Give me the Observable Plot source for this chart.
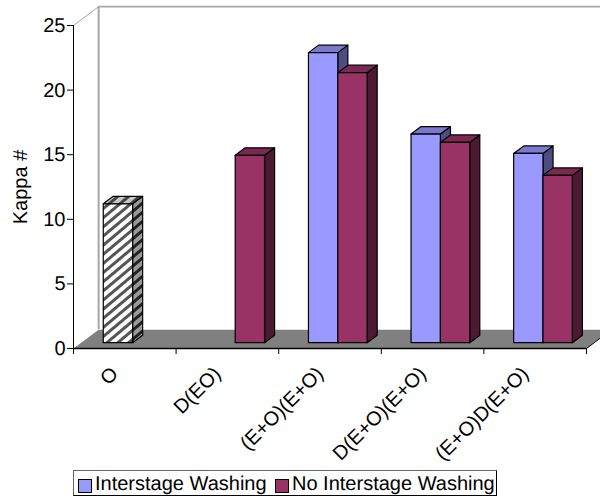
<!DOCTYPE html>
<html>
<head>
<meta charset="utf-8">
<script src="https://cdn.jsdelivr.net/npm/d3@7"></script>
<script src="https://cdn.jsdelivr.net/npm/@observablehq/plot@0.6"></script>
<style>
  html, body { margin: 0; padding: 0; background: #fff; }
  #chart { position: relative; width: 600px; height: 499px; overflow: hidden; font-family: "Liberation Sans", Arial, sans-serif; text-rendering: geometricPrecision; }
  #chart svg { display: block; }
  #legend { position: absolute; left: 73px; top: 470px; width: 424px; height: 26px; box-sizing: border-box; border: 1px solid #000; border-top-color: #666; border-left-color: #666; font-size: 20px; line-height: 26px; color: #000; white-space: nowrap; }
  #legend span { position: absolute; top: 0; }
  #legend i { position: absolute; top: 8px; width: 12px; height: 12px; border: 1px solid #000; box-sizing: content-box; }
</style>
</head>
<body>
<div id="chart"><div id="legend"></div></div>
<script>
const categories = ["O", "D(EO)", "(E+O)(E+O)", "D(E+O)(E+O)", "(E+O)D(E+O)"];
const oxygenOnly = [10.75, null, null, null, null];
const interstageWashing = [null, null, 22.45, 16.15, 14.65];
const noInterstageWashing = [null, 14.5, 20.9, 15.5, 12.95];
const yTicks = [0, 5, 10, 15, 20, 25];
const seriesNames = ["Interstage Washing", "No Interstage Washing"];

// Oblique projection of the third dimension, in data units of x and y.
const wallDepth = {x: 0.245, y: 1.46};
const barDepth = {x: 0.098, y: 0.58};
const barLift = 0.45;
const barStart = 0.29;
const barWidth = 0.286;

function bars(values, slot) {
  return values.flatMap((v, i) => v == null ? [] : [{i, v, x0: i + barStart + slot * barWidth, x1: i + barStart + (slot + 1) * barWidth, y0: barLift, y1: barLift + v}]);
}
const poly = (id, pts) => pts.map(([x, y]) => ({id, x, y}));
const front = (b, k) => poly(k + b.i, [[b.x0, b.y0], [b.x1, b.y0], [b.x1, b.y1], [b.x0, b.y1]]);
const side = (b, k) => poly(k + b.i, [[b.x1, b.y0], [b.x1 + barDepth.x, b.y0 + barDepth.y], [b.x1 + barDepth.x, b.y1 + barDepth.y], [b.x1, b.y1]]);
const top_ = (b, k) => poly(k + b.i, [[b.x0, b.y1], [b.x1, b.y1], [b.x1 + barDepth.x, b.y1 + barDepth.y], [b.x0 + barDepth.x, b.y1 + barDepth.y]]);

function barMarks(rows, key, fills) {
  const common = {x: "x", y: "y", z: "id", curve: "linear-closed", stroke: "#000", strokeWidth: 1.2};
  return [
    Plot.line(rows.flatMap(b => side(b, key)), {...common, fill: fills.side}),
    Plot.line(rows.flatMap(b => top_(b, key)), {...common, fill: fills.top}),
    Plot.line(rows.flatMap(b => front(b, key)), {...common, fill: fills.front})
  ];
}

const floor = poly("floor", [[0, 0], [wallDepth.x, wallDepth.y], [5 + wallDepth.x, wallDepth.y], [5, 0]]);

const plot = Plot.plot({
  width: 600,
  height: 466,
  marginLeft: 73,
  marginRight: 14,
  marginTop: 25,
  marginBottom: 118,
  style: {fontFamily: "'Liberation Sans', Arial, sans-serif", fontSize: "20px", background: "#fff", color: "#000", overflow: "hidden"},
  x: {domain: [0, 5]},
  y: {domain: [0, 25]},
  marks: [
    // walls
    Plot.ruleX([wallDepth.x], {y1: wallDepth.y, y2: 25 + wallDepth.y, stroke: "#a6a6a6", strokeWidth: 2}),
    Plot.line([{x: wallDepth.x, y: 25 + wallDepth.y}, {x: 5 + wallDepth.x, y: 25 + wallDepth.y}], {x: "x", y: "y", stroke: "#a6a6a6", strokeWidth: 1.6}),
    Plot.line([{x: 0, y: 25}, {x: wallDepth.x, y: 25 + wallDepth.y}], {x: "x", y: "y", stroke: "#a6a6a6", strokeWidth: 1}),
    // floor
    Plot.line(floor, {x: "x", y: "y", z: "id", curve: "linear-closed", fill: "#808080", stroke: "none"}),
    Plot.line([{x: 5, y: 0}, {x: 5 + wallDepth.x, y: wallDepth.y}], {x: "x", y: "y", stroke: "#000", strokeWidth: 1}),
    // bars
    ...barMarks(bars(oxygenOnly, 0), "o", {front: "url(#hatch)", side: "url(#hatchSide)", top: "url(#hatchTop)"}),
    ...barMarks(bars(interstageWashing, 0), "a", {front: "#9999ff", side: "#4d4d80", top: "#7a7acc"}),
    ...barMarks(bars(noInterstageWashing, 1), "b", {front: "#993366", side: "#4d1a33", top: "#7a2952"}),
    // axes
    Plot.ruleY([0], {x1: 0, x2: 5, stroke: "#000", strokeWidth: 1.3}),
    Plot.ruleX([0], {y1: 0, y2: 25, stroke: "#000", strokeWidth: 1}),
    Plot.axisY({ticks: yTicks, tickSize: 6, tickPadding: 2, label: "Kappa #", labelAnchor: "center", labelArrow: "none", labelOffset: 61, stroke: "#000"}),
    Plot.axisX({ticks: d3.range(categories.length + 1), tickSize: 6, tickFormat: () => "", label: null, stroke: "#000"}),
    Plot.text(categories, {
      x: (d, i) => i + 0.5,
      y: 0,
      text: d => d,
      rotate: -45,
      textAnchor: "end",
      lineAnchor: "middle",
      dx: -10,
      dy: 22,
      fill: "#000"
    })
  ]
});

// Hatch fills used by the single oxygen-stage bar.
const ns = "http://www.w3.org/2000/svg";
const defs = document.createElementNS(ns, "defs");
[["hatch", "#ffffff", "#555555"], ["hatchSide", "#9a9a9a", "#222222"], ["hatchTop", "#c8c8c8", "#444444"]].forEach(([id, bg, fg]) => {
  const p = document.createElementNS(ns, "pattern");
  p.setAttribute("id", id);
  p.setAttribute("patternUnits", "userSpaceOnUse");
  p.setAttribute("width", 7);
  p.setAttribute("height", 7);
  p.setAttribute("patternTransform", "rotate(-40)");
  const r0 = document.createElementNS(ns, "rect");
  r0.setAttribute("width", 7); r0.setAttribute("height", 7); r0.setAttribute("fill", bg);
  const r1 = document.createElementNS(ns, "rect");
  r1.setAttribute("width", 7); r1.setAttribute("height", 3); r1.setAttribute("fill", fg);
  p.append(r0, r1);
  defs.append(p);
});
plot.prepend(defs);

const chart = document.getElementById("chart");
chart.prepend(plot);

const legend = document.getElementById("legend");
const swatches = [["#9999ff", 4, 21], ["#993366", 201, 218]];
seriesNames.forEach((name, k) => {
  const sw = document.createElement("i");
  sw.style.background = swatches[k][0];
  sw.style.left = swatches[k][1] + "px";
  const t = document.createElement("span");
  t.textContent = name;
  t.style.left = swatches[k][2] + "px";
  legend.append(sw, t);
});
</script>
</body>
</html>
